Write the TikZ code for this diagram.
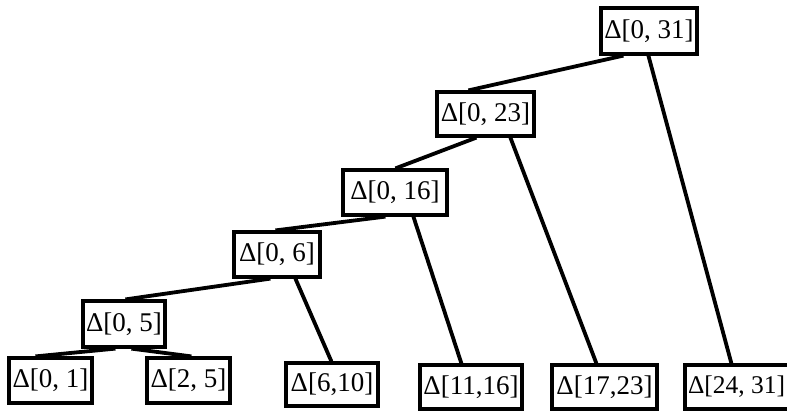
\documentclass[tikz,border=0pt]{standalone}
\usepackage{fontspec}
\setmainfont{Liberation Serif}
\usetikzlibrary{calc}
\begin{document}
\begin{tikzpicture}[x=1pt,y=-1pt,
  box/.style={draw, line width=3.2pt, inner sep=0pt, font=\fontsize{27}{30}\selectfont},
  edge/.style={line width=3.8pt}]
\useasboundingbox (0,0) rectangle (787,413);
\node[box, minimum width=96pt, minimum height=46pt] (n031) at (649,31) {Δ[0, 31]};
\node[box, minimum width=97pt, minimum height=44pt] (n023) at (485.5,114) {Δ[0, 23]};
\node[box, minimum width=104pt, minimum height=45pt] (n016) at (395,192.5) {Δ[0, 16]};
\node[box, minimum width=86pt, minimum height=45pt] (n06) at (277,254.5) {Δ[0, 6]};
\node[box, minimum width=82pt, minimum height=46pt] (n05) at (124,324) {Δ[0, 5]};
\node[box, minimum width=83pt, minimum height=45pt] (n01) at (50.5,380.5) {Δ[0, 1]};
\node[box, minimum width=83pt, minimum height=45pt] (n25) at (188.5,380.5) {Δ[2, 5]};
\node[box, minimum width=92pt, minimum height=43pt] (n610) at (332,384.5) {Δ[6,10]};
\node[box, minimum width=102pt, minimum height=44pt] (n1116) at (471,387) {Δ[11,16]};
\node[box, minimum width=105pt, minimum height=44pt] (n1723) at (604.5,387) {Δ[17,23]};
\node[box, minimum width=110pt, minimum height=44pt] (n2431) at (740,387) {\hbox to 106pt{\hskip1pt\fontsize{25.5}{30}\selectfont Δ[24, 31]\hss}};
\draw[edge] ($(n031.south west)+(24,0)$) -- ($(n023.north west)+(33,0)$);
\draw[edge] ($(n031.south west)+(49,0)$) -- ($(n2431.north west)+(48,0)$);
\draw[edge] ($(n023.south west)+(41,0)$) -- ($(n016.north west)+(54,0)$);
\draw[edge] ($(n023.south west)+(75,0)$) -- ($(n1723.north west)+(46,0)$);
\draw[edge] ($(n016.south west)+(44,0)$) -- ($(n06.north west)+(43,0)$);
\draw[edge] ($(n016.south west)+(72,0)$) -- ($(n1116.north west)+(43,0)$);
\draw[edge] ($(n06.south west)+(38,0)$) -- ($(n05.north west)+(44,0)$);
\draw[edge] ($(n06.south west)+(63,0)$) -- ($(n610.north west)+(47,0)$);
\draw[edge] ($(n05.south west)+(34,0)$) -- ($(n01.north west)+(28,0)$);
\draw[edge] ($(n05.south west)+(50,0)$) -- ($(n25.north west)+(46,0)$);
\end{tikzpicture}
\end{document}
